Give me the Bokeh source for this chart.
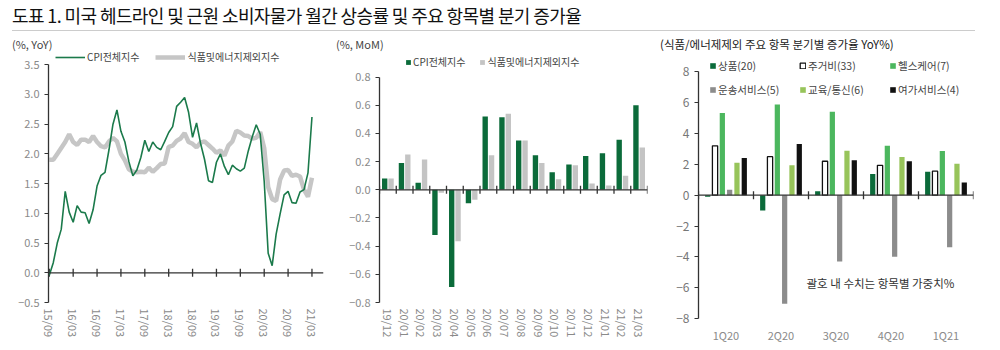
import numpy as np
from bokeh.plotting import figure
from bokeh.models import (FixedTicker, CustomJSTickFormatter, Span, Label, Legend,
                          LegendItem, Div)
from bokeh.layouts import row, column
from bokeh.embed import file_html
from bokeh.resources import INLINE

FONT = "Noto Sans CJK KR"
AX = "#333333"
LBL = "#8a8a8a"

# ---------------- data ----------------
# Panel 1: monthly YoY, 2015/09 .. 2021/03
tick_labels_1 = ["15/09", "16/03", "16/09", "17/03", "17/09", "18/03", "18/09",
                 "19/03", "19/09", "20/03", "20/09", "21/03"]
cpi_yoy = [-0.04, 0.17, 0.50, 0.73,
           1.37, 1.02, 0.85, 1.13, 1.02, 1.01, 0.83, 1.06, 1.46, 1.64, 1.69, 2.07,
           2.50, 2.74, 2.38, 2.20, 1.87, 1.63, 1.73, 1.94, 2.23, 2.04, 2.20, 2.11,
           2.07, 2.21, 2.36, 2.46, 2.80, 2.87, 2.95, 2.70, 2.28, 2.52, 2.18, 1.91,
           1.55, 1.52, 1.86, 2.00, 1.79, 1.65, 1.81, 1.75, 1.71, 1.76, 2.05, 2.29,
           2.49, 2.33, 1.54, 0.33, 0.12, 0.65, 0.99, 1.31, 1.37, 1.18, 1.17, 1.36,
           1.40, 1.68, 2.62]
core_yoy = [1.90, 1.90, 2.00, 2.10,
            2.20, 2.33, 2.20, 2.15, 2.24, 2.24, 2.20, 2.30, 2.20, 2.13, 2.11, 2.21,
            2.27, 2.21, 2.00, 1.89, 1.74, 1.70, 1.69, 1.70, 1.69, 1.77, 1.70, 1.76,
            1.83, 1.84, 2.12, 2.14, 2.22, 2.26, 2.35, 2.20, 2.17, 2.11, 2.19, 2.21,
            2.15, 2.09, 2.02, 2.06, 1.97, 2.14, 2.21, 2.39, 2.36, 2.31, 2.30, 2.26,
            2.27, 2.37, 2.10, 1.44, 1.24, 1.21, 1.57, 1.72, 1.73, 1.63, 1.65, 1.62,
            1.40, 1.28, 1.60]
line_names = ["CPI전체지수", "식품및에너지제외지수"]

# Panel 2: monthly MoM
months_2 = ["19/12", "20/01", "20/02", "20/03", "20/04", "20/05", "20/06", "20/07",
            "20/08", "20/09", "20/10", "20/11", "20/12", "21/01", "21/02", "21/03"]
cpi_mom = [0.08, 0.19, 0.05, -0.32, -0.69, -0.095, 0.52, 0.515,
           0.35, 0.245, 0.125, 0.18, 0.24, 0.26, 0.355, 0.60]
core_mom = [0.08, 0.25, 0.215, -0.02, -0.365, -0.07, 0.245, 0.54,
            0.35, 0.19, 0.075, 0.175, 0.045, 0.03, 0.10, 0.30]

# Panel 3: quarterly YoY by item
quarters = ["1Q20", "2Q20", "3Q20", "4Q20", "1Q21"]
item_names = ["상품(20)", "주거비(33)", "헬스케어(7)", "운송서비스(5)", "교육/통신(6)", "여가서비스(4)"]
goods = [-0.1, -1.0, 0.25, 1.38, 1.52]
shelter = [3.2, 2.5, 2.2, 1.94, 1.56]
health = [5.33, 5.88, 5.42, 3.2, 2.86]
transport = [0.35, -7.05, -4.3, -4.0, -3.38]
edu_comm = [2.1, 1.94, 2.88, 2.48, 2.04]
leisure = [2.42, 3.32, 2.27, 2.2, 0.82]

title_text = "도표 1. 미국 헤드라인 및 근원 소비자물가 월간 상승률 및 주요 항목별 분기 증가율"
unit_texts = ["(%, YoY)", "(%, MoM)", "(식품/에너제제외 주요 항목 분기별 증가율 YoY%)"]
note_text = "괄호 내 수치는 항목별 가중치%"


def minus_fmt(decimals):
    return CustomJSTickFormatter(code=(
        "const s = Math.abs(tick).toFixed(%d);"
        "return (tick < -1e-9 ? '\\u2212' : '') + s;" % decimals))


def base_fig(width, height, xr, yr, mbl, mbr, mbt, mbb):
    p = figure(width=width, height=height, x_range=xr, y_range=yr,
               output_backend="svg", toolbar_location=None,
               min_border_left=mbl, min_border_right=mbr,
               min_border_top=mbt, min_border_bottom=mbb)
    p.grid.visible = False
    p.outline_line_color = None
    p.background_fill_color = None
    p.border_fill_color = None
    ya = p.yaxis[0]
    ya.axis_line_color = AX
    ya.axis_line_width = 1.3
    ya.major_tick_line_color = AX
    ya.major_tick_out = 4
    ya.major_tick_in = 0
    ya.minor_tick_line_color = None
    ya.major_label_text_color = LBL
    ya.major_label_text_font = FONT
    ya.major_label_text_font_size = "11px"
    ya.major_label_standoff = 5
    xa = p.xaxis[0]
    xa.axis_line_color = None
    xa.major_tick_line_color = None
    xa.minor_tick_line_color = None
    xa.major_tick_out = 0
    xa.major_tick_in = 0
    xa.major_label_text_color = LBL
    xa.major_label_text_font = FONT
    xa.major_label_text_font_size = "11px"
    return p


def zero_axis(p, tick_pos):
    p.add_layout(Span(location=0, dimension="width", line_color=AX, line_width=1.3))
    p.scatter(x=tick_pos, y=[0] * len(tick_pos), marker="dash", angle=np.pi / 2,
              size=8, line_color=AX, line_width=1.3)


def legend_style(lg, font_size="10px"):
    lg.padding = 0
    lg.margin = 0
    lg.border_line_color = None
    lg.background_fill_alpha = 0
    lg.label_text_font = FONT
    lg.label_text_font_size = font_size
    lg.label_text_color = "#444444"
    lg.label_height = 12


FIG_H = 295

# ---------------- panel 1 ----------------
x1 = list(range(len(cpi_yoy)))
step1 = 6
p1 = base_fig(333, FIG_H, (-0.2, 68.9), (-0.5, 3.74), 48, 10, 0, 42)
p1.yaxis[0].ticker = FixedTicker(ticks=[-0.5, 0, 0.5, 1.0, 1.5, 2.0, 2.5, 3.0, 3.5])
p1.yaxis[0].bounds = (-0.5, 3.5)
p1.yaxis[0].formatter = minus_fmt(1)
ticks1 = [i * step1 for i in range(len(tick_labels_1))]
p1.xaxis[0].ticker = FixedTicker(ticks=ticks1)
p1.xaxis[0].major_label_overrides = {t: s for t, s in zip(ticks1, tick_labels_1)}
p1.xaxis[0].major_label_orientation = "vertical"
p1.xaxis[0].major_label_standoff = 6
zero_axis(p1, ticks1)
r_core = p1.line(x1, core_yoy, line_color="#c6c6c6", line_width=4.5)
r_cpi = p1.line(x1, cpi_yoy, line_color="#1b7a4b", line_width=1.6)
lg1 = Legend(items=[LegendItem(label=line_names[0], renderers=[r_cpi]),
                    LegendItem(label=line_names[1], renderers=[r_core])],
             orientation="horizontal", location=(7, 238))
legend_style(lg1)
lg1.glyph_width = 30
lg1.glyph_height = 12
lg1.label_standoff = 2
lg1.spacing = 16
p1.add_layout(lg1)

# ---------------- panel 2 ----------------
x2 = np.arange(len(months_2))
p2 = base_fig(322, FIG_H, (-0.5, len(months_2) - 0.5), (-0.8, 0.989), 46, 8, 0, 43)
p2.yaxis[0].ticker = FixedTicker(ticks=[-0.8, -0.6, -0.4, -0.2, 0, 0.2, 0.4, 0.6, 0.8])
p2.yaxis[0].bounds = (-0.8, 0.8)
p2.yaxis[0].formatter = minus_fmt(1)
p2.xaxis[0].ticker = FixedTicker(ticks=list(x2))
p2.xaxis[0].major_label_overrides = {int(i): s for i, s in zip(x2, months_2)}
p2.xaxis[0].major_label_orientation = "vertical"
p2.xaxis[0].major_label_standoff = 6
zero_axis(p2, list(np.arange(len(months_2) + 1) - 0.5))
b1 = p2.vbar(x=x2 - 0.19, top=cpi_mom, width=0.32, fill_color="#0b6b3a", line_color=None)
b2 = p2.vbar(x=x2 + 0.19, top=core_mom, width=0.32, fill_color="#c4c4c4", line_color=None)
lg2 = Legend(items=[LegendItem(label=line_names[0], renderers=[b1]),
                    LegendItem(label=line_names[1], renderers=[b2])],
             orientation="horizontal", location=(26, 233))
legend_style(lg2)
lg2.glyph_width = 6
lg2.glyph_height = 6
lg2.label_standoff = 2
lg2.spacing = 14
p2.add_layout(lg2)

# ---------------- panel 3 ----------------
x3 = np.arange(len(quarters))
p3 = base_fig(345, FIG_H, (-0.5, len(quarters) - 0.5), (-8, 9.386), 43, 27, 0, 23)
p3.yaxis[0].ticker = FixedTicker(ticks=[-8, -6, -4, -2, 0, 2, 4, 6, 8])
p3.yaxis[0].bounds = (-8, 8)
p3.yaxis[0].formatter = minus_fmt(0)
p3.yaxis[0].major_label_text_font_size = "12px"
p3.yaxis[0].major_label_text_color = "#777777"
p3.xaxis[0].ticker = FixedTicker(ticks=list(x3))
p3.xaxis[0].major_label_overrides = {int(i): s for i, s in zip(x3, quarters)}
p3.xaxis[0].major_label_standoff = 8
zero_axis(p3, list(np.arange(len(quarters) + 1) - 0.5))
series3 = [goods, shelter, health, transport, edu_comm, leisure]
fills = ["#0b6b3a", "white", "#4cb75e", "#8c8c8c", "#97c45a", "#111111"]
lines = [None, "#111111", None, None, None, None]
pitch = 0.133
renders3 = []
for k, (vals, fc, lc) in enumerate(zip(series3, fills, lines)):
    r = p3.vbar(x=x3 + (k - 2.5) * pitch, top=vals, width=0.095, fill_color=fc,
                line_color=lc, line_width=1.3)
    renders3.append(r)
lg3 = Legend(items=[LegendItem(label=n, renderers=[r]) for n, r in zip(item_names, renders3)],
             orientation="horizontal", ncols=3, location=(11, 220))
legend_style(lg3, "10.5px")
lg3.glyph_width = 7
lg3.glyph_height = 7
lg3.label_standoff = 2
lg3.spacing = 6
lg3.label_height = 18
lg3.label_width = 75
p3.add_layout(lg3)
p3.add_layout(Label(x=1.464, y=-5.7, text=note_text,
                    text_font=FONT, text_font_size="11.5px", text_color="#333333",
                    text_baseline="middle", text_align="left"))

# ---------------- page ----------------
title = Div(text=('<div style="margin-left:12px;width:963px;height:31px;border-bottom:1px solid #cccccc;'
                  'box-sizing:border-box;padding-left:0px;line-height:31px;'
                  'font-family:\'Noto Sans CJK KR\';font-size:18px;letter-spacing:-0.6px;'
                  'color:#111;white-space:nowrap;overflow:visible;">' + title_text + '</div>'),
            width=1000, height=32, margin=(0, 0, 0, 0))
span_css = ("position:absolute;top:4px;line-height:16px;white-space:nowrap;"
            "font-family:'Noto Sans CJK KR';color:#444;")
headers = Div(text=('<div style="position:relative;width:1000px;height:18px;overflow:visible;">'
                    '<span style="%sleft:12px;font-size:11px;">%s</span>'
                    '<span style="%sleft:336px;font-size:11px;">%s</span>'
                    '<span style="%sleft:660px;font-size:11.5px;color:#222;">%s</span></div>'
                    % (span_css, unit_texts[0], span_css, unit_texts[1], span_css, unit_texts[2])),
              width=1000, height=18, margin=(0, 0, 0, 0))
bottom = Div(text=('<div style="margin-left:12px;width:963px;height:4px;'
                   'border-top:1px solid #dddddd;"></div>'),
             width=1000, height=5, margin=(0, 0, 0, 0))

layout = column(title, headers, row(p1, p2, column(p3, spacing=0), spacing=0), bottom, spacing=0)
open("out.html", "w").write(file_html(layout, INLINE))
